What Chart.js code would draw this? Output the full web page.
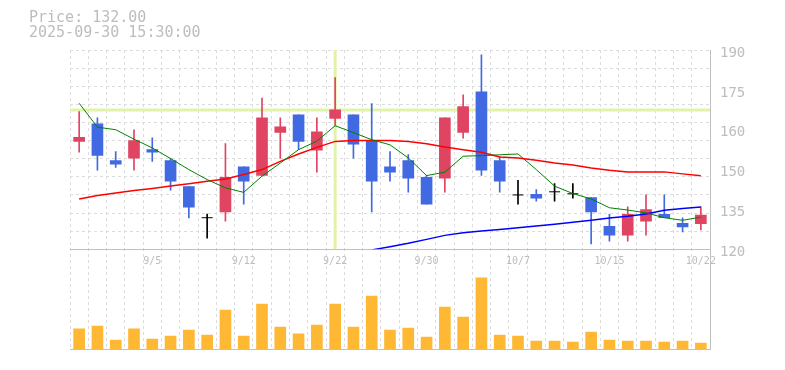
<!DOCTYPE html>
<html><head><meta charset="utf-8">
<script src="https://cdn.jsdelivr.net/npm/chart.js@4.4.0/dist/chart.umd.min.js"></script>
<style>html,body{margin:0;padding:0;background:#fff;}canvas{display:block;}</style>
</head><body>
<canvas id="c" width="785" height="370"></canvas>
<script>
const titleLines = ['Price: 132.00', '2025-09-30 15:30:00'];
const dates = ['9/1','9/2','9/3','9/4','9/5','9/8','9/9','9/10','9/11','9/12','9/16','9/17','9/18','9/19','9/22','9/24','9/25','9/26','9/29','9/30','10/1','10/2','10/3','10/6','10/7','10/8','10/9','10/10','10/14','10/15','10/16','10/17','10/20','10/21','10/22'];
const xTickLabels = ['9/5','9/12','9/22','9/30','10/7','10/15','10/22'];
const opens  = [157.9,164.1,151.2,152.0,155.0,151.2,142.0,131.1,133.1,149.0,146.0,161.1,167.2,154.8,166.0,167.2,158.2,149.0,151.2,145.3,145.0,161.1,175.3,151.2,139.1,139.3,140.2,139.5,138.2,128.1,125.0,129.9,132.3,129.1,129.0];
const highs  = [168.4,166.2,154.3,162.0,159.2,152.0,142.0,132.4,157.1,149.0,173.1,166.2,167.2,166.2,180.3,167.2,171.2,154.3,153.3,146.0,166.2,174.3,188.3,152.5,144.2,141.0,143.1,143.1,138.2,132.3,134.9,139.1,139.1,131.1,134.9];
const lows   = [154.1,147.8,148.8,147.8,150.9,140.8,131.0,123.9,129.9,135.9,146.0,151.9,155.0,147.1,163.5,152.0,133.1,143.9,140.1,135.9,140.1,159.0,146.0,140.1,135.9,136.9,136.9,138.0,121.9,122.9,122.9,125.0,131.1,126.1,126.8];
const closes = [159.3,153.0,149.9,158.2,154.1,143.9,134.8,131.1,145.3,143.9,166.2,163.0,157.9,161.3,169.0,156.9,143.9,147.1,145.0,135.9,166.2,170.1,147.8,143.9,139.1,138.0,140.2,139.5,133.1,125.0,132.3,134.0,131.1,127.9,132.0];
const ma5  = [171.3,162.9,162.0,158.7,155.6,151.9,148.0,144.5,141.6,140.0,145.7,150.3,155.0,158.0,163.4,161.0,158.5,156.7,152.1,145.9,147.1,152.7,152.9,153.2,153.5,148.0,142.2,139.6,137.7,134.6,133.8,132.8,131.1,130.2,131.3];
const ma25 = [137.7,138.9,139.8,140.7,141.4,142.2,143.0,143.9,144.7,146.3,148.0,150.9,153.5,155.8,157.9,158.2,158.2,158.2,157.9,157.1,155.9,155.0,154.1,152.4,152.1,151.3,150.3,149.6,148.6,147.8,147.2,147.2,147.2,146.5,145.8];
const ma75 = [null,null,null,null,null,null,null,null,null,null,null,null,null,null,null,null,119.8,120.9,122.1,123.5,124.9,125.8,126.4,127.0,127.6,128.2,128.8,129.5,130.2,131.0,131.6,132.4,133.7,134.3,134.9];
const volumes = [20300,23000,9000,20300,10000,13000,19000,14000,39000,13000,45000,22000,15300,24000,45000,22000,53000,19000,21000,12000,42000,32000,71300,14000,13000,8000,8000,7000,17000,9000,8000,8000,7000,8000,6000];
const priceTickLabels = ['190','175','160','150','135','120'];
const priceMin = 120, priceMax = 190;
const crossDate = '9/22', crossPrice = 168.9;

const UP = '#E04463', DOWN = '#4169E1', DOJI = '#000000';
const candleColor = i => closes[i] > opens[i] ? UP : (closes[i] < opens[i] ? DOWN : DOJI);
const FONT = 'DejaVu Sans Mono';
const TXT = '#bdbdbd';

const crosshair = {
  id: 'crosshair',
  beforeDatasetsDraw(chart) {
    const {ctx, chartArea} = chart;
    const x = chart.scales.x.getPixelForValue(dates.indexOf(crossDate));
    const y = chart.scales.y.getPixelForValue(crossPrice);
    ctx.save();
    ctx.strokeStyle = '#e0f3a8';
    ctx.lineWidth = 3;
    ctx.beginPath();
    ctx.moveTo(chartArea.left, y); ctx.lineTo(chartArea.right, y);
    ctx.moveTo(x, chart.scales.y.top); ctx.lineTo(x, chart.scales.y.bottom);
    ctx.stroke();
    ctx.restore();
  }
};

new Chart(document.getElementById('c'), {
  type: 'bar',
  data: {
    labels: dates,
    datasets: [
      {type:'line', data: ma5, borderColor:'#008000', borderWidth:1, pointRadius:0, tension:0, yAxisID:'y', xAxisID:'x'},
      {type:'line', data: ma25, borderColor:'#ff0000', borderWidth:1.5, pointRadius:0, tension:0, yAxisID:'y', xAxisID:'x'},
      {type:'line', data: ma75, borderColor:'#0000ff', borderWidth:1.5, pointRadius:0, tension:0, spanGaps:false, yAxisID:'y', xAxisID:'x'},
      {type:'line', data: closes.map((c,i) => c === opens[i] ? c : null), showLine:false, pointStyle:'line', pointRadius:5.5, pointBorderColor:DOJI, pointBorderWidth:1, borderColor:DOJI, yAxisID:'y', xAxisID:'x'},
      {type:'bar', data: opens.map((o,i) => [o, closes[i]]), backgroundColor: c => closes[c.dataIndex] === opens[c.dataIndex] ? 'rgba(0,0,0,0)' : candleColor(c.dataIndex), barThickness:11, grouped:false, borderWidth:0, yAxisID:'y', xAxisID:'x'},
      {type:'bar', data: lows.map((l,i) => [l, highs[i]]), backgroundColor: c => candleColor(c.dataIndex), barThickness:1, grouped:false, borderWidth:0, yAxisID:'y', xAxisID:'x'},
      {type:'bar', data: volumes, backgroundColor:'#FFB833', barThickness:11, grouped:false, borderWidth:0, yAxisID:'vol', xAxisID:'x'}
    ]
  },
  options: {
    responsive: false,
    animation: false,
    devicePixelRatio: 1,
    events: [],
    layout: {padding: {left: 29, right: 0, top: 0, bottom: 21}},
    plugins: {
      legend: {display: false},
      tooltip: {enabled: false},
      title: {display: true, text: titleLines, align: 'start', color: TXT, fullSize: true,
              font: {family: FONT, size: 15, weight: 'normal', lineHeight: 1.04},
              padding: {top: 10, bottom: 8.8}}
    },
    scales: {
      x: {type:'category', axis:'x', position:{y: priceMin}, offset:true,
          grid:{display:true, offset:true, color:'#dcdcdc', drawTicks:false},
          border:{display:true, color:'#c0c0c0', dash:[3,3]},
          ticks:{autoSkip:false, maxRotation:0, minRotation:0, padding:6, color:TXT, font:{family:FONT, size:10},
                 callback: function(v){ const l = this.getLabelForValue(v); return xTickLabels.includes(l) ? l : ''; }}},
      xb: {type:'category', axis:'x', position:'bottom', offset:true,
           grid:{display:false, drawTicks:false}, border:{display:true, color:'#c0c0c0'}, ticks:{display:false}},
      yl: {type:'linear', axis:'y', position:'left', grid:{display:false, drawTicks:false},
           border:{display:false}, ticks:{display:false}, afterFit: s => { s.width = 41; }},
      y: {type:'linear', axis:'y', position:'right', stack:'main', stackWeight:2, min:priceMin, max:priceMax,
          afterBuildTicks: s => {
            const t = [];
            for (let i = 0; i <= 11; i++) t.push({value: priceMin + i * (priceMax - priceMin) / 11});
            const n = priceTickLabels.length;
            priceTickLabels.forEach((txt, k) => t.push({value: priceMax - k * (priceMax - priceMin) / (n - 1), txt}));
            t.sort((a, b) => a.value - b.value);
            s.ticks = t;
          },
          grid:{color: c => (c.tick && c.tick.txt) ? 'rgba(0,0,0,0)' : '#dcdcdc', drawTicks:false},
          border:{display:true, color:'#c0c0c0', dash:[3,3]},
          ticks:{autoSkip:false, padding:10, color:TXT, font:{family:FONT, size:14, lineHeight:'6px'},
                 callback: (v, i, t) => t[i].txt ? ['', t[i].txt] : ''},
          afterFit: s => { s.width = 75; }},
      vol: {type:'linear', axis:'y', position:'right', stack:'main', stackWeight:1, min:0, max:100000,
            grid:{display:false, drawTicks:false}, border:{display:true, color:'#c0c0c0'}, ticks:{display:false},
            afterFit: s => { s.width = 75; }}
    }
  },
  plugins: [crosshair]
});
</script>
</body></html>
